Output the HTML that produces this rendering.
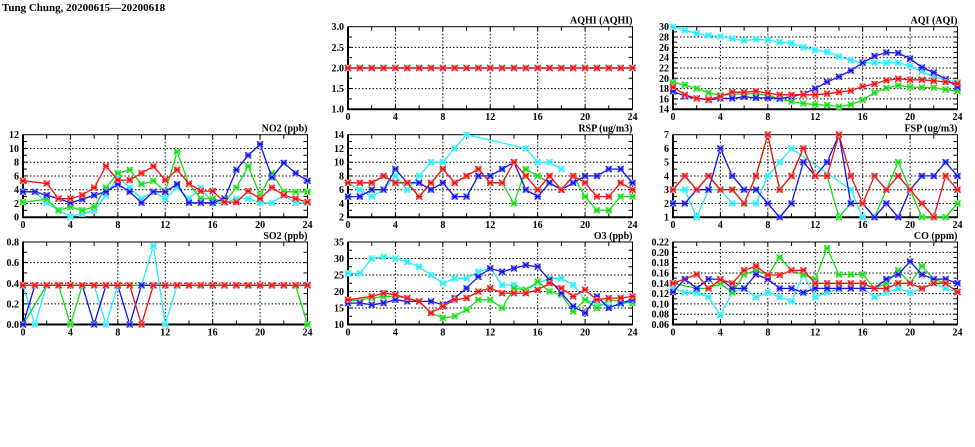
<!DOCTYPE html>
<html><head><meta charset="utf-8">
<style>
html,body{margin:0;padding:0;background:#fff;width:975px;height:447px;overflow:hidden}
svg{display:block}
text{font-family:"Liberation Serif",serif;font-weight:bold;fill:#000}
</style></head>
<body>
<svg id="s" width="975" height="447" xmlns="http://www.w3.org/2000/svg">
<text x="2" y="11" font-size="11">Tung Chung, 20200615—20200618</text>
</svg>
<script>
var N=null;
var C={cyan:'#22eeff',green:'#11dd11',blue:'#1111ee',red:'#ee1111'};
var L={cyan:'#99f6ff',green:'#99ee99',blue:'#9999ee',red:'#f09999'};
var cols=[23,348,673], W=284.5, rows=[26.7,134.7,242], H=82.5;
var panels=[
{c:1,r:0,t:'AQHI (AQHI)',min:1,max:3,labels:['1.0','1.5','2.0','2.5','3.0'],
 d:{cyan:Array(25).fill(2),green:Array(25).fill(2),blue:Array(25).fill(2),red:Array(25).fill(2)}},
{c:2,r:0,t:'AQI (AQI)',min:14,max:30,labels:['14','16','18','20','22','24','26','28','30'],
 d:{cyan:[30,29.3,28.7,28.3,28.1,27.7,27.3,27.6,27.4,27,26.8,26,25.5,25.1,24.2,23.5,23,23,23,23,22.4,21.3,20.3,19.7,19.2],
 green:[19.2,18.7,18,17.2,16.7,16.9,17,17,16.7,16,15.5,15.1,14.9,14.8,14.5,14.9,15.8,17.2,18.1,18.6,18.3,18.2,18.2,17.8,17.5],
 blue:[17.5,16.5,16.1,15.8,16.1,16.1,16.4,16.2,16.2,16.1,16.4,17,18,19.3,20.3,21.5,23,24.3,25,24.9,23.8,22.1,21.1,19.8,18.3],
 red:[18.3,16.8,16.1,15.9,16.5,17.3,17.3,17.5,17.1,16.8,16.8,16.8,16.8,17,17.3,17.6,18.4,18.9,19.6,19.9,19.7,19.7,19.5,19.3,19]}},
{c:0,r:1,t:'NO2 (ppb)',min:0,max:12,labels:['0','2','4','6','8','10','12'],
 d:{cyan:[3.7,3.7,2.1,1.0,0.1,0.5,1.0,3.2,5.8,4.3,2.7,3.7,2.7,4.3,2.7,4.3,2.1,2.1,2.7,2.7,2.1,2.1,3.2,2.1,2.1],
 green:[2.2,N,2.6,1.0,1.5,1.0,1.5,4.3,6.4,6.9,4.8,5.3,3.7,9.5,4.8,2.7,2.7,2.2,4.3,7.4,3.2,6.4,3.7,3.7,3.7],
 blue:[3.7,3.7,3.2,2.7,2.1,2.6,3.2,3.7,4.8,3.7,2.1,3.7,3.7,4.8,2.1,2.1,2.1,2.7,6.9,9,10.6,5.8,7.9,6.4,5.3],
 red:[5.3,N,4.9,2.7,2.7,3.2,4.3,7.4,5.4,5.4,6.4,7.4,5.4,6.9,4.9,3.8,3.8,2.2,2.2,3.8,2.7,4.3,3.2,2.7,2.2]}},
{c:1,r:1,t:'RSP (ug/m3)',min:2,max:14,labels:['2','4','6','8','10','12','14'],
 d:{cyan:[7,6,5,6,8,6,8,10,10,12,14,N,N,N,N,12,10,10,9,N,N,N,N,N,N],
 green:[7,7,7,8,7,7,5,7,9,7,8,9,7,7,4,9,8,7,6,8,5,3,3,5,5],
 blue:[5,5,6,6,9,7,7,6,7,5,5,8,8,9,10,6,5,7,6,7,8,8,9,9,7],
 red:[7,7,7,8,7,7,5,7,9,7,8,9,7,7,10,8,6,8,6,8,7,5,5,7,6]}},
{c:2,r:1,t:'FSP (ug/m3)',min:1,max:7,labels:['1','2','3','4','5','6','7'],
 d:{cyan:[3,3,1,3,3,2,2,2,4,5,6,N,N,N,N,3,1,N,N,N,N,N,N,N,N],
 green:[3,4,3,4,3,3,2,4,7,3,4,6,4,4,1,2,2,1,N,5,3,1,N,1,2],
 blue:[2,2,3,3,6,4,3,3,2,1,2,5,4,5,7,2,2,1,2,1,3,4,4,5,4].slice(0,25),
 red:[3,4,3,4,3,3,2,4,7,3,4,6,4,4,7,4,2,4,3,4,3,2,1,4,3]}},
{c:0,r:2,t:'SO2 (ppb)',min:0,max:0.8,labels:['0.0','0.2','0.4','0.6','0.8'],
 d:{cyan:[.38,0,.38,.38,.38,.38,.38,0,.38,.38,.38,.76,0,.38,.38,.38,.38,.38,.38,.38,.38,.38,.38,.38,.38],
 green:[0,N,.38,.38,0,.38,.38,.38,.38,.38,.38,.38,.38,.38,.38,.38,.38,.38,.38,.38,.38,.38,.38,.38,0],
 blue:[0,.38,.38,.38,.38,.38,0,.38,.38,0,.38,.38,.38,.38,.38,.38,.38,.38,.38,.38,.38,.38,.38,.38,.38],
 red:[.38,.38,.38,.38,.38,.38,.38,.38,.38,.38,0,.38,.38,.38,.38,.38,.38,.38,.38,.38,.38,.38,.38,.38,.38]}},
{c:1,r:2,t:'O3 (ppb)',min:10,max:35,labels:['10','15','20','25','30','35'],
 d:{cyan:[25.5,25.5,30,30.5,30,29,27.5,25,22.5,24,24,26,27,22,22,20.5,22.5,24,24,22,17.5,16.5,15.5,16,17],
 green:[17,N,18,18.5,18.5,18,17,13.5,12,12.5,14.5,17.5,17.5,15,21,20.5,23,20,19,14,17.5,15,17.5,17,16.5],
 blue:[16.5,16.5,16,16.5,17.5,17,17,17,16,18,21,24.5,27,26,27,28,27.5,23.5,19.5,15.5,13.5,18.5,15,16.5,17.5],
 red:[17.5,N,18.5,19.5,19,18,17,13.5,15.5,17.5,18,20,21,19.5,19.5,19.5,20.5,22.5,21,18.5,20.5,17.5,18,18,18.5]}},
{c:2,r:2,t:'CO (ppm)',min:0.06,max:0.22,labels:['0.06','0.08','0.10','0.12','0.14','0.16','0.18','0.20','0.22'],
 d:{cyan:[.13,.122,.122,.113,.078,.122,.13,.113,.122,.113,.105,.157,.113,.122,.13,.13,.13,.113,.122,.13,.122,.13,.14,.13,.123],
 green:[.14,N,.13,.13,.14,.122,.157,.165,.156,.19,.165,.157,.148,.208,.157,.157,.157,.13,.14,.165,.14,.173,.148,.14,.123],
 blue:[.123,.148,.13,.148,.148,.13,.13,.157,.148,.13,.13,.122,.13,.13,.13,.13,.13,.13,.148,.157,.182,.157,.148,.148,.14],
 red:[.14,N,.157,.13,.147,.14,.165,.173,.156,.156,.165,.165,.14,.14,.14,.14,.14,.13,.13,.14,.14,.13,.14,.14,.123]}}
];
var xl=['0','4','8','12','16','20','24'];
var s='';
panels.forEach(function(p){
 var x0=cols[p.c],y0=rows[p.r],n=p.labels.length-1;
 function X(h){return x0+h*W/24}
 function Y(v){return y0+H-(v-p.min)/(p.max-p.min)*H}
 // grid
 for(var i=1;i<6;i++){s+='<line x1="'+X(i*4)+'" x2="'+X(i*4)+'" y1="'+y0+'" y2="'+(y0+H)+'" stroke="#000" stroke-width="1" stroke-dasharray="1.5,2"/>';}
 for(var j=1;j<n;j++){var yy=y0+H-j*H/n;s+='<line x1="'+x0+'" x2="'+(x0+W)+'" y1="'+yy+'" y2="'+yy+'" stroke="#000" stroke-width="1" stroke-dasharray="1.5,2"/>';}
 // ticks
 for(var h=2;h<24;h+=2){s+='<line x1="'+X(h)+'" x2="'+X(h)+'" y1="'+(y0+H)+'" y2="'+(y0+H-4)+'" stroke="#000"/><line x1="'+X(h)+'" x2="'+X(h)+'" y1="'+y0+'" y2="'+(y0+4)+'" stroke="#000"/>';}
 for(var j=1;j<2*n;j++){var yy=y0+H-j*H/(2*n);s+='<line x1="'+x0+'" x2="'+(x0+4)+'" y1="'+yy+'" y2="'+yy+'" stroke="#000"/><line x1="'+(x0+W-4)+'" x2="'+(x0+W)+'" y1="'+yy+'" y2="'+yy+'" stroke="#000"/>';}
 s+='<rect x="'+x0+'" y="'+y0+'" width="'+W+'" height="'+H+'" fill="none" stroke="#000" stroke-width="1"/>';
 s+='<polyline points="'+x0+','+y0+' '+x0+','+(y0+H)+' '+(x0+W)+','+(y0+H)+'" fill="none" stroke="#000" stroke-width="2"/>';
 // labels
 for(var j=0;j<=n;j++){s+='<text x="'+(x0-4)+'" y="'+(y0+H-j*H/n+3.5)+'" font-size="10" text-anchor="end">'+p.labels[j]+'</text>';}
 for(var i=0;i<7;i++){s+='<text x="'+X(i*4)+'" y="'+(y0+H+11)+'" font-size="10" text-anchor="middle">'+xl[i]+'</text>';}
 s+='<text x="'+(x0+W)+'" y="'+(y0-3)+'" font-size="10" text-anchor="end">'+p.t+'</text>';
 // series
 ['cyan','green','blue','red'].forEach(function(k){
  var a=p.d[k],seg=[],segs=[];
  for(var h=0;h<25;h++){if(a[h]===N||a[h]===undefined){if(seg.length)segs.push(seg);seg=[];}else seg.push(X(h).toFixed(1)+','+Y(a[h]).toFixed(1));}
  if(seg.length)segs.push(seg);
  // connect over gaps like reference (lines continue)
  var pts=[];for(var h=0;h<25;h++)if(a[h]!==N&&a[h]!==undefined)pts.push(X(h).toFixed(1)+','+Y(a[h]).toFixed(1));
  s+='<polyline points="'+pts.join(' ')+'" fill="none" stroke="'+C[k]+'" stroke-width="1.3"/>';
  for(var h=0;h<25;h++){if(a[h]===N||a[h]===undefined)continue;var cx=X(h),cy=Y(a[h]);
   s+='<rect x="'+(cx-3)+'" y="'+(cy-3)+'" width="6" height="6" fill="'+L[k]+'"/>';
   s+='<path d="M'+(cx-3)+' '+(cy-3)+'L'+(cx+3)+' '+(cy+3)+'M'+(cx+3)+' '+(cy-3)+'L'+(cx-3)+' '+(cy+3)+'M'+(cx-3)+' '+cy+'L'+(cx+3)+' '+cy+'" stroke="'+C[k]+'" stroke-width="1.2"/>';}
 });
});
document.getElementById('s').insertAdjacentHTML('beforeend',s);
</script>
</body></html>
